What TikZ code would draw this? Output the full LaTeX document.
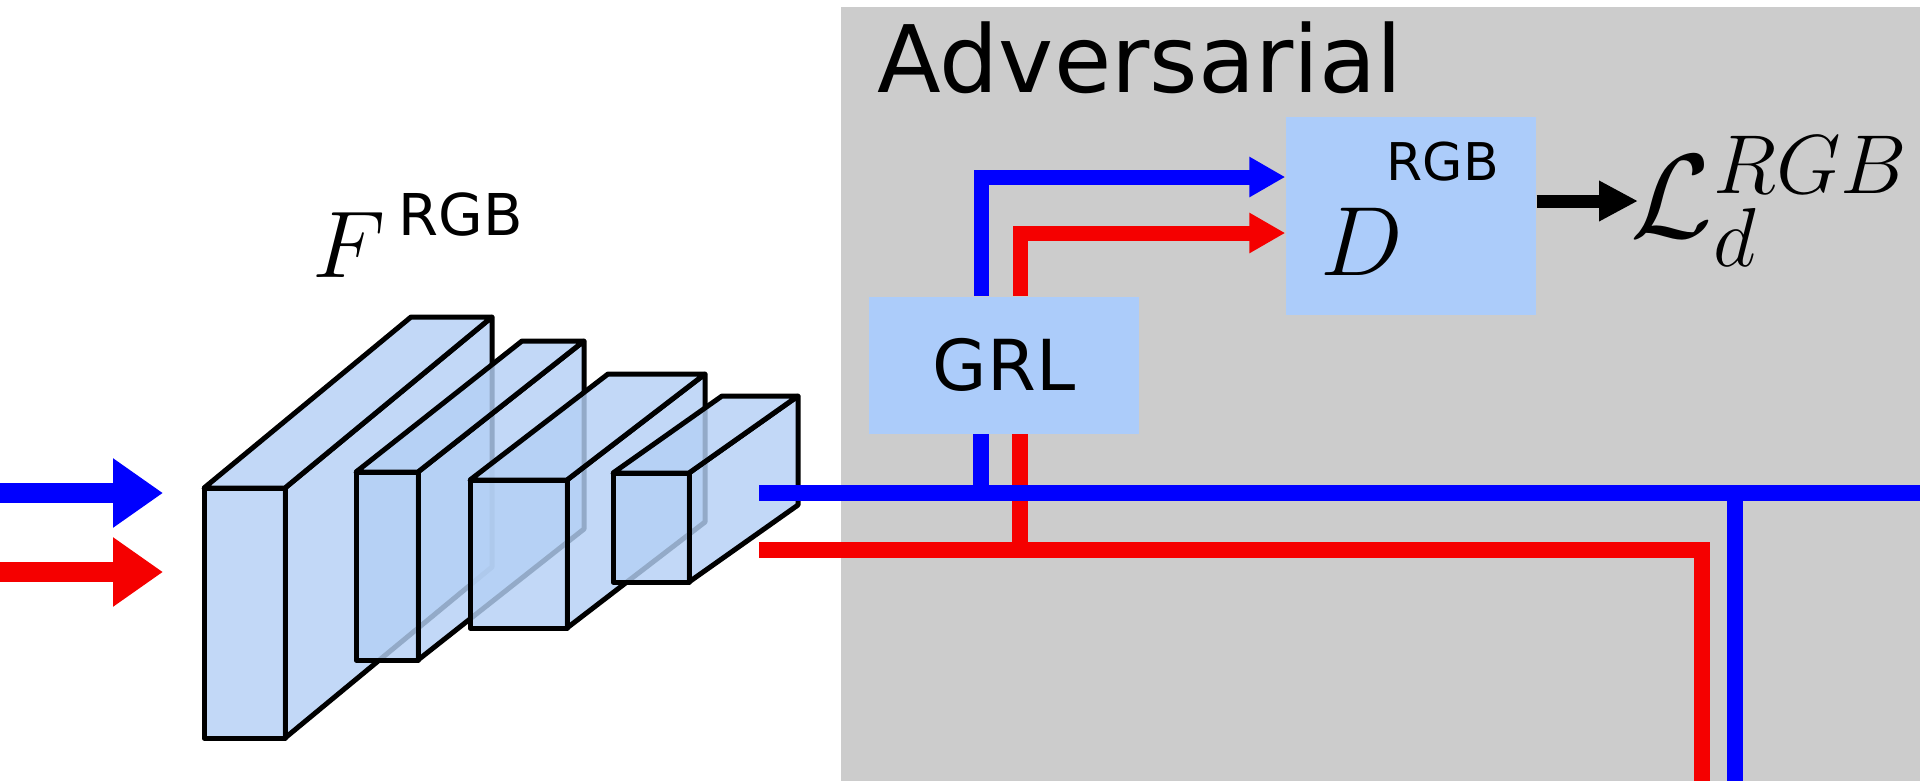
\documentclass[tikz,border=0pt]{standalone}
\usepackage{fix-cm}
\usepackage{fontspec}
\usepackage{amsmath}
\usetikzlibrary{arrows.meta, positioning}
\newfontfamily\dejavu{DejaVu Sans}
\definecolor{advgrey}{RGB}{204,204,204}
\definecolor{boxblue}{RGB}{172,204,250}
\definecolor{blockblue}{RGB}{180,208,245}
\definecolor{fblue}{RGB}{0,0,255}
\definecolor{fred}{RGB}{245,0,0}

\begin{document}
\begin{tikzpicture}[x=0.1mm, y=-0.1mm,
    block/.style={fill=blockblue, fill opacity=0.82, draw=black, line width=0.5mm, line join=round},
    module/.style={rectangle, fill=boxblue, inner sep=0pt},
    sans/.style={font=\dejavu\fontsize{#1}{#1}\selectfont, inner sep=0pt},
    flow/.style={line width=1.6mm},
    feed/.style={line width=1.5mm, -{Triangle[length=3.6mm, width=3.8mm]}},
    input/.style={line width=2mm, -{Triangle[length=5mm, width=6.6mm]}}]
  \useasboundingbox (0,0) rectangle (1920,781);
  \fill[advgrey] (841,7) rectangle (1920,781);

  % feature extractor F: x/y/width/height/depth/rise
  \foreach \x/\y/\w/\h/\dx/\dy in {204/488/81/250/207/171, 356/472/62/188/166/131,
                                   470/480/97/148/138/106, 613/473/76/109/109/77}{
    \filldraw[block] (\x+\w,\y) -- ++(\dx,-\dy) -- ++(0,\h) -- ++(-\dx,\dy) -- cycle;
    \filldraw[block] (\x,\y) -- ++(\dx,-\dy) -- ++(\w,0) -- ++(-\dx,\dy) -- cycle;
    \filldraw[block] (\x,\y) rectangle ++(\w,\h);
  }
  \node[anchor=base west, inner sep=0pt, font=\fontsize{27}{32}\selectfont] (fsym) at (312,277) {$F$};
  \node[sans=16.4, anchor=base west] (fsup) at (398,235) {RGB};

  % adversarial branch
  \node[sans=26.5, anchor=base west] (advtitle) at (877,92) {Adversarial};
  \node[module, minimum width=27mm, minimum height=13.7mm, sans=20] (grl) at (1004,365) {GRL};
  \node[module, minimum width=25mm, minimum height=19.8mm] (disc) at (1411,216) {};
  \node[anchor=base west, inner sep=0pt, font=\fontsize{28}{32}\selectfont] (dsym) at (1320,275) {$D$};
  \node[sans=14.8, anchor=base west] (dsup) at (1386,180) {RGB};
  \node[anchor=base west, inner sep=0pt, font=\fontsize{34}{40}\selectfont] (loss) at (1630,237) {$\mathcal{L}_d^{RGB}$};

  \coordinate (inb) at (0,493);
  \coordinate (inr) at (0,572);
  \coordinate (tipb) at (163,493);
  \coordinate (tipr) at (163,572);
  \coordinate (outb) at (759,493);
  \coordinate (outr) at (759,550);
  \coordinate (endb) at (1920,493);
  \coordinate (downb) at (1735,781);
  \coordinate (downr) at (1702,781);
  \coordinate (lossin) at (1638,201);

  \draw[input, fblue] (inb) -- (tipb);
  \draw[input, fred] (inr) -- (tipr);
  \draw[flow, fred] (outr) -| (downr);
  \draw[flow, fred] ([xshift=1.6mm]grl.south) -- ([xshift=1.6mm]grl.south |- outr);
  \draw[flow, fblue] (outb) -- (endb);
  \draw[flow, fblue] (outb -| downb) -- (downb);
  \draw[flow, fblue] ([xshift=-2.3mm]grl.south) -- ([xshift=-2.3mm]grl.south |- outb);
  \draw[feed, fblue] ([xshift=-2.3mm]grl.north) |- ([yshift=3.9mm]disc.west);
  \draw[feed, fred] ([xshift=1.6mm]grl.north) |- ([yshift=-1.7mm]disc.west);
  \draw[line width=1.3mm, -{Triangle[length=3.9mm, width=3.8mm]}] (disc.east |- lossin) -- (lossin);
\end{tikzpicture}
\end{document}
